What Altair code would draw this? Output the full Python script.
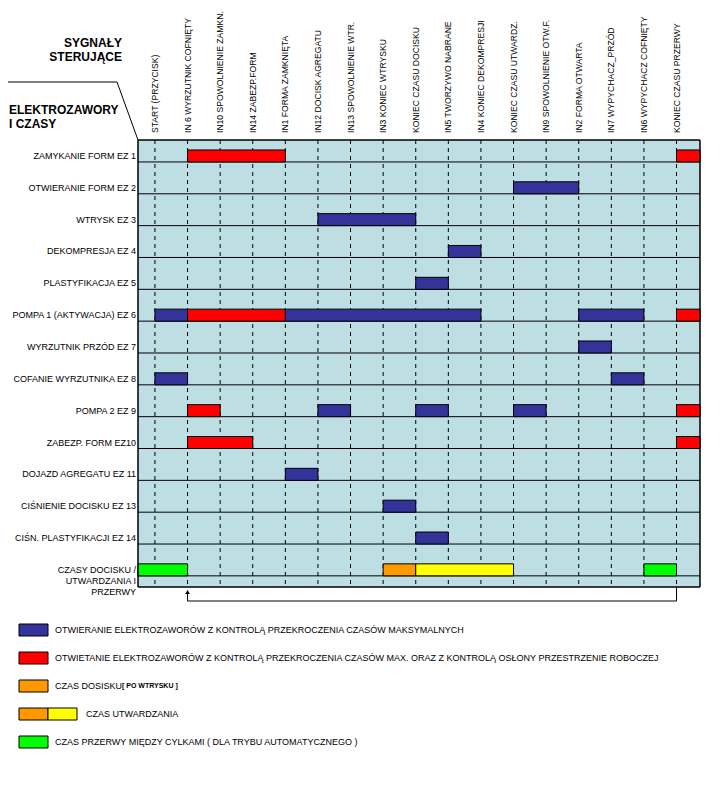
import altair as alt
import pandas as pd

# ---------------- data ----------------
signals = [
    "START (PRZYCISK)",
    "IN 6 WYRZUTNIK COFNIĘTY",
    "IN10 SPOWOLNIENIE ZAMKN.",
    "IN14 ZABEZP.FORM",
    "IN1 FORMA ZAMKNIĘTA",
    "IN12 DOCISK  AGREGATU",
    "IN13 SPOWOLNIENIE WTR.",
    "IN3 KONIEC WTRYSKU",
    "KONIEC CZASU DOCISKU",
    "IN5 TWORZYWO NABRANE",
    "IN4 KONIEC DEKOMPRESJI",
    "KONIEC CZASU UTWARDZ.",
    "IN9 SPOWOLNIENIE OTW.F.",
    "IN2 FORMA OTWARTA",
    "IN7 WYPYCHACZ_PRZÓD",
    "IN6 WYPYCHACZ COFNIĘTY",
    "KONIEC CZASU PRZERWY",
]

rows = [
    "ZAMYKANIE FORM EZ 1",
    "OTWIERANIE FORM EZ 2",
    "WTRYSK EZ 3",
    "DEKOMPRESJA EZ 4",
    "PLASTYFIKACJA EZ 5",
    "POMPA 1 (AKTYWACJA) EZ 6",
    "WYRZUTNIK PRZÓD EZ 7",
    "COFANIE WYRZUTNIKA EZ 8",
    "POMPA 2  EZ 9",
    "ZABEZP. FORM EZ10",
    "DOJAZD AGREGATU EZ 11",
    "CIŚNIENIE DOCISKU EZ 13",
    "CIŚN. PLASTYFIKACJI EZ 14",
    "CZASY DOCISKU /\nUTWARDZANIA I\nPRZERWY",
]

# bars: row index, start signal index, end signal index, kind
# (-1 = from left edge, 17 = to right edge)
bar_row   = [0, 0, 1, 2, 3, 4, 5, 5, 5, 5, 5, 6, 7, 7, 8, 8, 8, 8, 8, 9, 9, 10, 11, 12, 13, 13, 13, 13]
bar_start = [1, 16, 11, 5, 9, 8, 0, 1, 4, 13, 16, 13, 0, 14, 1, 5, 8, 11, 16, 1, 16, 4, 7, 8, -1, 7, 8, 15]
bar_end   = [4, 17, 13, 8, 10, 9, 1, 4, 10, 15, 17, 14, 1, 15, 2, 6, 9, 12, 17, 3, 17, 5, 8, 9, 1, 8, 11, 16]
bar_kind  = ["red", "red", "navy", "navy", "navy", "navy", "navy", "red", "navy", "navy", "red",
             "navy", "navy", "navy", "red", "navy", "navy", "navy", "red", "red", "red",
             "navy", "navy", "navy", "green", "orange", "yellow", "green"]

legend_labels = [
    "OTWIERANIE ELEKTROZAWORÓW Z KONTROLĄ PRZEKROCZENIA CZASÓW MAKSYMALNYCH",
    "OTWIETANIE ELEKTROZAWORÓW Z KONTROLĄ PRZEKROCZENIA CZASÓW MAX. ORAZ Z KONTROLĄ OSŁONY PRZESTRZENIE ROBOCZEJ",
    "CZAS DOSISKU",
    "CZAS UTWARDZANIA",
    "CZAS PRZERWY MIĘDZY CYLKAMI ( DLA TRYBU AUTOMATYCZNEGO )",
]
legend_swatches = [["navy"], ["red"], ["orange"], ["orange", "yellow"], ["green"]]
legend_note = "[ PO WTRYSKU ]"

loop_from = 16   # KONIEC CZASU PRZERWY
loop_to = 1      # IN 6 WYRZUTNIK COFNIĘTY

colors = {"navy": "#333399", "red": "#FF0000", "orange": "#FF9900",
          "yellow": "#FFFF00", "green": "#00FF00"}
BG = "#BDDEE3"
FONT = "Liberation Sans"

# ---------------- layout ----------------
W, H = 562, 447
xs = alt.Scale(domain=[-0.52, 16.72], clamp=True)
ys = alt.Scale(domain=[13.35, -0.69])
BAR_H = 0.377

sig_df = pd.DataFrame({"i": list(range(len(signals))), "name": signals})
row_df = pd.DataFrame({"r": list(range(len(rows))), "label": rows})
bar_df = pd.DataFrame({"row": bar_row, "s": bar_start, "e": bar_end, "kind": bar_kind})

one = pd.DataFrame({"a": [0]})

frame = alt.Chart(one).mark_rect(fill=BG, stroke="black", strokeWidth=1).encode(
    x=alt.value(0), x2=alt.value(W), y=alt.value(0), y2=alt.value(H))

dashes = alt.Chart(sig_df).mark_rule(color="black", strokeWidth=1, strokeDash=[4, 4]).encode(
    x=alt.X("i:Q", scale=xs, axis=None), y=alt.value(0), y2=alt.value(H))

hlines = alt.Chart(row_df).mark_rule(color="black", strokeWidth=1).encode(
    y=alt.Y("r:Q", scale=ys, axis=None), x=alt.value(0), x2=alt.value(W))

bars = alt.Chart(bar_df).transform_calculate(
    top=f"datum.row - {BAR_H}"
).mark_rect(stroke="black", strokeWidth=1).encode(
    x=alt.X("s:Q", scale=xs, axis=None), x2="e:Q",
    y=alt.Y("row:Q", scale=ys, axis=None), y2="top:Q",
    fill=alt.Fill("kind:N", scale=alt.Scale(domain=list(colors.keys()),
                                            range=list(colors.values())), legend=None))

border = alt.Chart(one).mark_rect(fill=None, stroke="black", strokeWidth=1).encode(
    x=alt.value(0), x2=alt.value(W), y=alt.value(0), y2=alt.value(H))

row_labels = alt.Chart(row_df).mark_text(
    align="right", baseline="alphabetic", dy=-3, font=FONT, fontSize=9,
    lineBreak="\n", lineHeight=11, color="black"
).encode(y=alt.Y("r:Q", scale=ys, axis=None), x=alt.value(-2), text="label:N")

col_labels = alt.Chart(sig_df).mark_text(
    align="left", baseline="middle", angle=270, font=FONT, fontSize=8.6, color="black"
).encode(x=alt.X("i:Q", scale=xs, axis=None), y=alt.value(-7), text="name:N")

# header corner
corner_df = pd.DataFrame({"px": [-130, -21, 0], "py": [-58, -58, 0], "o": [0, 1, 2]})
corner = alt.Chart(corner_df).mark_line(color="black", strokeWidth=1).encode(
    x=alt.X("px:Q", scale=None), y=alt.Y("py:Q", scale=None), order="o:Q")

t1 = alt.Chart(pd.DataFrame({"t": ["SYGNAŁY", "STERUJĄCE"], "py": [-97, -83]})).mark_text(
    align="right", baseline="middle", font=FONT, fontSize=12, fontWeight="bold", color="black"
).encode(x=alt.value(-16), y=alt.Y("py:Q", scale=None), text="t:N")
t2 = alt.Chart(pd.DataFrame({"t": ["ELEKTROZAWORY", "I CZASY"], "py": [-30, -16]})).mark_text(
    align="left", baseline="middle", font=FONT, fontSize=12, fontWeight="bold", color="black"
).encode(x=alt.value(-129), y=alt.Y("py:Q", scale=None), text="t:N")

# loop arrow under the grid
arrow_df = pd.DataFrame({"x": [loop_from, loop_from, loop_to, loop_to],
                         "py": [H, H + 14, H + 14, H + 6], "o": [0, 1, 2, 3]})
arrow = alt.Chart(arrow_df).mark_line(color="black", strokeWidth=1).encode(
    x=alt.X("x:Q", scale=xs, axis=None), y=alt.Y("py:Q", scale=None), order="o:Q")
head = alt.Chart(pd.DataFrame({"x": [loop_to]})).mark_point(
    shape="triangle-up", filled=True, color="black", size=22, opacity=1
).encode(x=alt.X("x:Q", scale=xs, axis=None), y=alt.value(H + 5))

# custom legend
sw_rows = []
for j, cols in enumerate(legend_swatches):
    for k, c in enumerate(cols):
        sw_rows.append({"j": j, "k": k, "kind": c})
sw_df = pd.DataFrame(sw_rows)
swatches = alt.Chart(sw_df).transform_calculate(
    x1="-119 + 29 * datum.k", x2="-90 + 29 * datum.k",
    y1="484 + 28 * datum.j", y2="496 + 28 * datum.j"
).mark_rect(stroke="black", strokeWidth=1).encode(
    x=alt.X("x1:Q", scale=None), x2="x2:Q", y=alt.Y("y1:Q", scale=None), y2="y2:Q",
    fill=alt.Fill("kind:N", scale=alt.Scale(domain=list(colors.keys()),
                                            range=list(colors.values())), legend=None))

leg_df = pd.DataFrame({"j": list(range(len(legend_labels))), "label": legend_labels,
                       "n": [len(c) for c in legend_swatches]})
leg_text = alt.Chart(leg_df).transform_calculate(
    tx="datum.n > 1 ? -52 : -83", ty="490 + 28 * datum.j"
).mark_text(align="left", baseline="middle", font=FONT, fontSize=9, color="black").encode(
    x=alt.X("tx:Q", scale=None), y=alt.Y("ty:Q", scale=None), text="label:N")
note = alt.Chart(pd.DataFrame({"t": [legend_note]})).mark_text(
    align="left", baseline="middle", font=FONT, fontSize=7, fontWeight="bold", color="black"
).encode(x=alt.value(-16), y=alt.value(490 + 28 * 2), text="t:N")

chart = alt.layer(
    frame, dashes, hlines, bars, border, row_labels, col_labels, corner, t1, t2,
    arrow, head, swatches, leg_text, note
).properties(
    width=W, height=H,
    autosize=alt.AutoSizeParams(type="none"),
    padding={"left": 130, "top": 132, "right": 12, "bottom": 195},
).configure_view(stroke=None)

chart.save("out.html", embed_options={"renderer": "svg", "actions": False})
